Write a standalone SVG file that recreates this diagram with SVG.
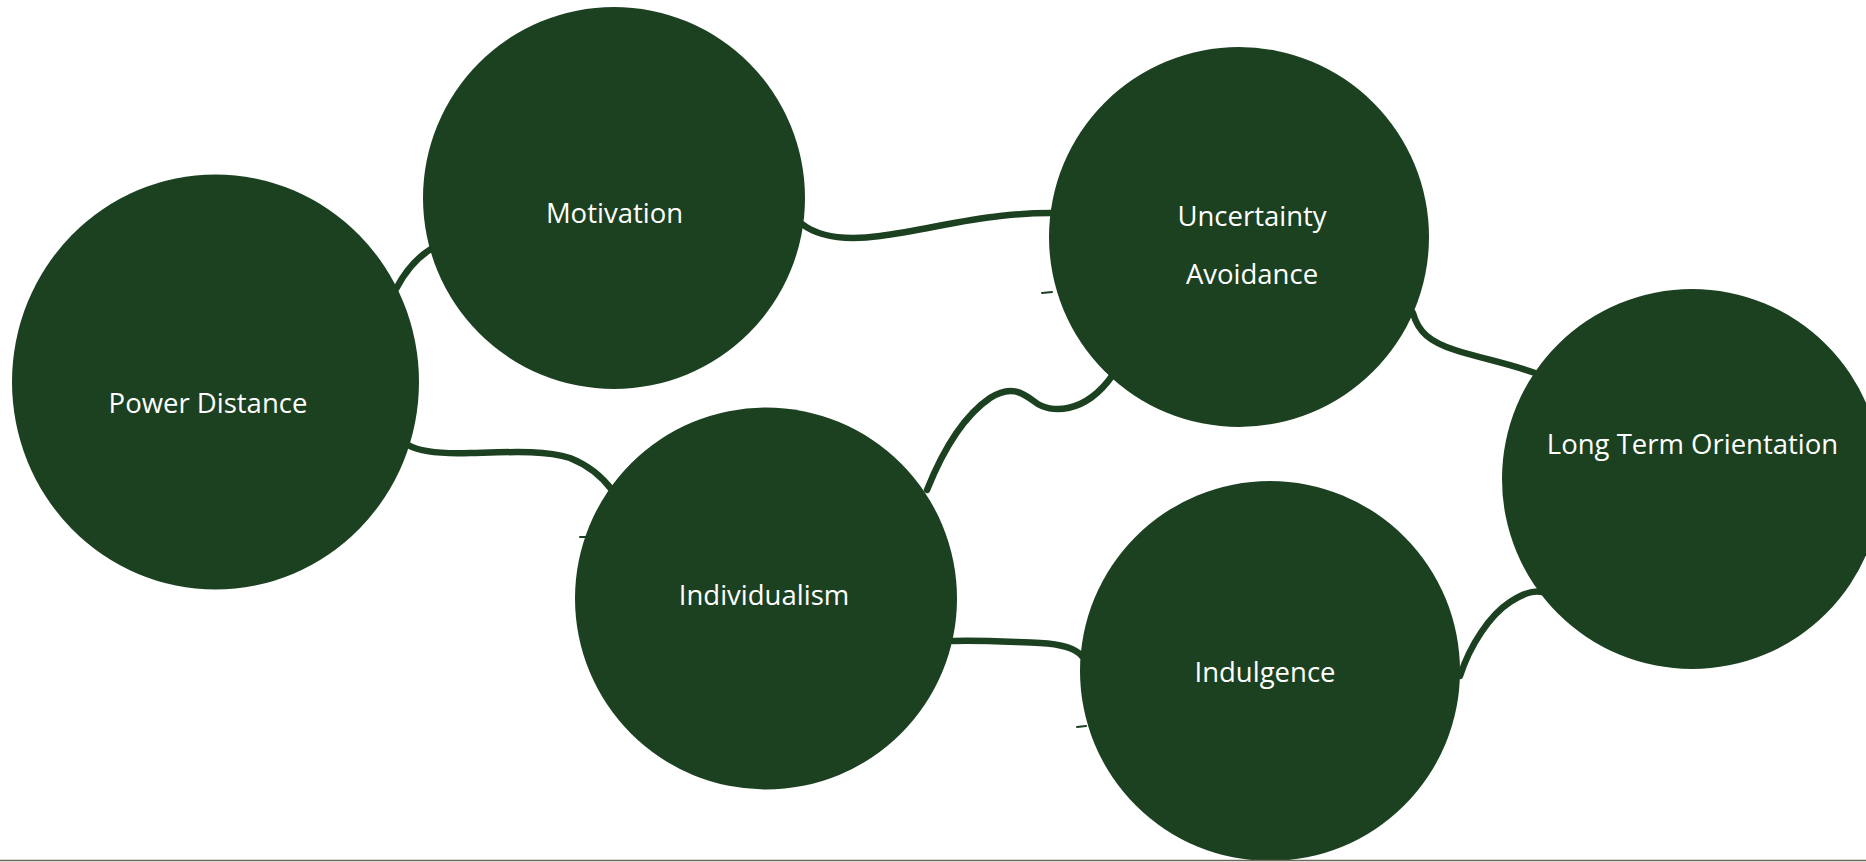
<svg xmlns="http://www.w3.org/2000/svg" width="1866" height="862" viewBox="0 0 1866 862">
  <style>
    .node { fill: #1C4121; }
    .label { fill: #FFFFFF; font-family: "Open Sans", "Noto Sans", "Liberation Sans", sans-serif; font-size: 27.5px; text-anchor: middle; }
    .link { fill: none; stroke: #1C4121; stroke-width: 6.5; stroke-linecap: round; stroke-linejoin: round; }
    .tick { fill: none; stroke: #1C4121; stroke-width: 2; stroke-linecap: round; }
  </style>
  <rect x="0" y="0" width="1866" height="862" fill="#FFFFFF"/>

  <!-- connectors sit beneath the circles -->
  <g id="connectors">
    <path class="link" d="M 431 249 Q 410 262 396 289"/>
    <path class="link" d="M 802 224 C 820 238, 850 240, 880 236 C 920 231, 960 220, 1000 216 C 1025 213, 1040 213, 1052 213"/>
    <path class="link" d="M 408 445 C 420 452, 440 454, 470 453 C 510 452, 545 450, 570 458 C 590 466, 603 478, 612 490"/>
    <path class="link" d="M 927 490 C 945 445, 965 415, 990 398 C 1010 385, 1022 392, 1035 402 C 1050 414, 1085 414, 1112 376"/>
    <path class="link" d="M 1413 313 C 1418 332, 1430 342, 1455 350 C 1480 358, 1510 364, 1535 373"/>
    <path class="link" d="M 953 641 C 980 640, 1010 642, 1040 643 C 1060 644, 1075 648, 1082 656"/>
    <path class="link" d="M 1460 676 C 1470 645, 1490 615, 1510 602 C 1522 594, 1532 590, 1542 592"/>
    <path class="tick" d="M 1042 293 L 1052 292"/>
    <path class="tick" d="M 580 537 L 590 537"/>
    <path class="tick" d="M 1077 727 L 1086 726"/>
  </g>

  <g id="node-power-distance">
    <ellipse class="node" cx="215.5" cy="382" rx="203.5" ry="207.5"/>
    <text class="label" x="208" y="413">Power Distance</text>
  </g>
  <g id="node-motivation">
    <circle class="node" cx="614" cy="198" r="191"/>
    <text class="label" x="614.5" y="223">Motivation</text>
  </g>
  <g id="node-uncertainty-avoidance">
    <circle class="node" cx="1239" cy="237" r="190"/>
    <text class="label" x="1252" y="226">Uncertainty</text>
    <text class="label" x="1252" y="284">Avoidance</text>
  </g>
  <g id="node-individualism">
    <circle class="node" cx="766" cy="598.5" r="191"/>
    <text class="label" x="764" y="605">Individualism</text>
  </g>
  <g id="node-indulgence">
    <circle class="node" cx="1270" cy="671" r="190"/>
    <text class="label" x="1265" y="682">Indulgence</text>
  </g>
  <g id="node-long-term-orientation">
    <circle class="node" cx="1692" cy="479" r="190"/>
    <text class="label" x="1692.5" y="454">Long Term Orientation</text>
  </g>

  <!-- baseline rule along the bottom edge -->
  <line x1="0" y1="860.5" x2="1866" y2="860.5" stroke="#6E6A5A" stroke-width="1.5"/>
</svg>
